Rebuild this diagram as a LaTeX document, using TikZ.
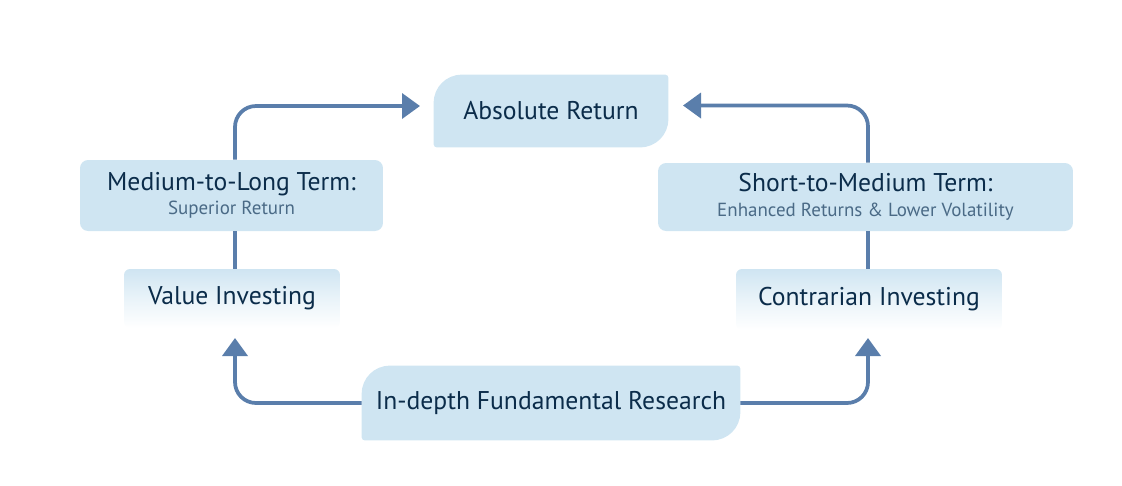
\documentclass[tikz,border=0pt]{standalone}
\usepackage{fontspec}
\setmainfont{PT Sans}
\usetikzlibrary{arrows.meta,backgrounds}

\definecolor{boxblue}{HTML}{CFE5F2}
\definecolor{flowblue}{HTML}{5A7EAB}
\definecolor{textnavy}{HTML}{0B2C4A}
\definecolor{subgray}{HTML}{4A6A86}

\newcommand{\subline}[1]{{\color{subgray}\fontsize{10.8}{12}\selectfont #1}}

\begin{document}
\begin{tikzpicture}[
    x=0.02cm, y=-0.02cm,
    goal/.style={text=textnavy, font=\fontsize{14.6}{16}\selectfont, inner sep=0pt},
    term/.style={goal, fill=boxblue, rounded corners=0.16cm, align=center},
    approach/.style={goal, top color=boxblue, bottom color=white, middle color=boxblue!45, rounded corners=0.12cm},
    flow/.style={draw=flowblue, line width=0.075cm, rounded corners=0.42cm, -{Triangle[width=0.5cm,length=0.36cm]}},
    link/.style={draw=flowblue, line width=0.075cm},
]
\useasboundingbox (0,0) rectangle (1122,485);

% target and source
\node[goal, minimum width=4.68cm, minimum height=1.44cm] (absret) at (551,111) {Absolute Return};
\node[goal, minimum width=7.56cm, minimum height=1.48cm] (research) at (551,403) {In-depth Fundamental Research};

% horizons
\node[term, minimum width=6.06cm, minimum height=1.42cm] (medlong) at (231.5,195.5)
    {Medium-to-Long Term:\\[-2pt]\subline{Superior Return}};
\node[term, minimum width=8.3cm, minimum height=1.36cm] (shortmed) at (865.5,197)
    {Short-to-Medium Term:\\[-2pt]\subline{Enhanced Returns \& Lower Volatility}};

% approaches
\node[approach, minimum width=4.32cm, minimum height=1.18cm] (value) at (232,298.5) {Value Investing};
\node[approach, minimum width=5.32cm, minimum height=1.22cm] (contra) at (869,299.5) {Contrarian Investing};

% arrow ends
\coordinate (lt) at (420,106);
\coordinate (rt) at (683,105.5);
\coordinate (lb) at (235,338);
\coordinate (rb) at (868,338);

% leaf-shaped backgrounds
\begin{scope}[on background layer]
\fill[boxblue] (absret.south) [rounded corners=0.06cm] -- (absret.south west)
    [rounded corners=0.56cm] -- (absret.north west) [rounded corners=0.06cm] -- (absret.north east)
    [rounded corners=0.56cm] -- (absret.south east) -- cycle;
\fill[boxblue] (research.south) [rounded corners=0.06cm] -- (research.south west)
    [rounded corners=0.56cm] -- (research.north west) [rounded corners=0.06cm] -- (research.north east)
    [rounded corners=0.56cm] -- (research.south east) -- cycle;
\end{scope}

% connectors
\draw[flow] (lb |- medlong.north) |- (lt);
\draw[flow] (rb |- shortmed.north) |- (rt);
\draw[link] (lb |- medlong.south) -- (lb |- value.north);
\draw[link] (rb |- shortmed.south) -- (rb |- contra.north);
\draw[flow] (research.west) -| (lb);
\draw[flow] (research.east) -| (rb);

\end{tikzpicture}
\end{document}
